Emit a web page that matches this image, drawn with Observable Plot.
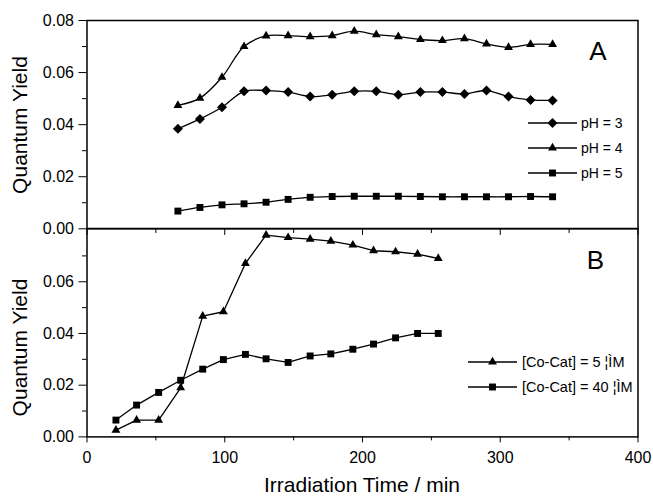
<!DOCTYPE html>
<html><head><meta charset="utf-8">
<script src="https://cdn.jsdelivr.net/npm/d3@7"></script>
<script src="https://cdn.jsdelivr.net/npm/@observablehq/plot@0.6"></script>
<style>
body{margin:0;background:#fff}
#wrap{position:relative;width:653px;height:499px;font-family:"Liberation Sans",Arial,sans-serif;overflow:hidden}
#wrap svg{position:absolute;left:0}
</style></head><body><div id="wrap"></div>
<script>
// ---- data ----
const timeA = [66,82,98,114,130,146,162,178,194,210,226,242,258,274,290,306,322,338];
const pH3 = [0.0384,0.0422,0.0467,0.0528,0.0531,0.0525,0.0508,0.0515,0.0528,0.0528,0.0515,0.0525,0.0525,0.0518,0.0531,0.0508,0.0495,0.0493];
const pH4 = [0.0474,0.0502,0.0582,0.0700,0.0741,0.0742,0.0738,0.0742,0.0759,0.0746,0.0738,0.0727,0.0723,0.0730,0.0710,0.0697,0.0708,0.0708];
const pH5 = [0.0068,0.0082,0.0092,0.0096,0.0102,0.0113,0.0121,0.0124,0.0125,0.0125,0.0125,0.0124,0.0123,0.0123,0.0123,0.0123,0.0124,0.0123];
const timeB = [21,36,52,68,84,99,115,130,146,162,177,193,208,224,240,255];
const coCat5 = [0.0026,0.0065,0.0065,0.0190,0.0467,0.0484,0.0671,0.0780,0.0771,0.0765,0.0757,0.0742,0.0720,0.0716,0.0707,0.0690];
const coCat40 = [0.0065,0.0123,0.0172,0.0219,0.0262,0.0299,0.0319,0.0302,0.0288,0.0313,0.0321,0.0339,0.0359,0.0383,0.0400,0.0400];
const seriesA = ["pH = 3","pH = 4","pH = 5"];
const seriesB = ["[Co-Cat] = 5 ¦ÌM","[Co-Cat] = 40 ¦ÌM"];
const xTicks = [0,100,200,300,400];
const xMinor = [50,150,250,350];
const yTicksA = [0,0.02,0.04,0.06,0.08];
const yTicksB = [0,0.02,0.04,0.06];
const yMinor = [0.01,0.03,0.05,0.07];
const panelLabels = ["A","B"];
const yLabel = "Quantum Yield";
const xLabel = "Irradiation Time / min";

// ---- symbols ----
const diamond = {draw(ctx, size){const s = Math.sqrt(size/2); ctx.moveTo(0,-s); ctx.lineTo(s,0); ctx.lineTo(0,s); ctx.lineTo(-s,0); ctx.closePath();}};
const sym = {diamond: [diamond, 4.0], triangle: [d3.symbolTriangle, 3.3], square: [d3.symbolSquare, 3.9]};

const rows = (xs, ys) => xs.map((t,i) => ({t, v: ys[i]}));
const fmt = d3.format(".2f");
const blank = () => "";

function seriesMarks(data, kind, curve) {
  const [s, r] = sym[kind];
  return [
    Plot.line(data, {x:"t", y:"v", curve, stroke:"black", strokeWidth:1.3}),
    Plot.dot(data, {x:"t", y:"v", symbol: s, r, fill:"black", stroke:"none"})
  ];
}

const style = {fontFamily:'"Liberation Sans", Arial, sans-serif', fontSize:"16px", color:"black", background:"transparent", overflow:"visible"};
const W = 653, mL = 86.5, mR = 15.5;
const topA = 20, bottomA = 228.3, bottomB = 436.7;

const chartA = Plot.plot({
  width: W, height: 230, marginLeft: mL, marginRight: mR, marginTop: topA, marginBottom: 230 - bottomA,
  x: {domain: [0,400], axis: null}, y: {domain: [0,0.08]}, style,
  marks: [
    Plot.axisY({ticks: yTicksA, tickSize: 8, tickPadding: 5, tickFormat: fmt, label: null}),
    Plot.axisY({ticks: yMinor, tickSize: 4.5, tickFormat: blank, label: null}),
    ...seriesMarks(rows(timeA, pH4), "triangle", "catmull-rom"),
    ...seriesMarks(rows(timeA, pH3), "diamond", "catmull-rom"),
    ...seriesMarks(rows(timeA, pH5), "square", "catmull-rom"),
    Plot.text([panelLabels[0]], {frameAnchor:"top-right", dx:-40, dy:30.8, lineAnchor:"middle", textAnchor:"middle", fontSize:26, fill:"black"}),
    Plot.frame({stroke:"black", strokeWidth:1.5})
  ]
});
chartA.style.top = "0px";

const hB = 499 - bottomA;
const chartB = Plot.plot({
  width: W, height: hB, marginLeft: mL, marginRight: mR, marginTop: 0, marginBottom: hB - (bottomB - bottomA),
  x: {domain: [0,400]}, y: {domain: [0,0.0806]}, style,
  marks: [
    Plot.axisY({ticks: yTicksB, tickSize: 8, tickPadding: 5, tickFormat: fmt, label: null}),
    Plot.axisY({ticks: yMinor, tickSize: 4.5, tickFormat: blank, label: null}),
    Plot.axisX({ticks: xTicks, tickSize: 6, tickPadding: 9, tickFormat: d => String(d), label: null}),
    Plot.axisX({ticks: xMinor, tickSize: 4, tickFormat: blank, label: null}),
    Plot.axisX({anchor:"top", ticks: xTicks, tickSize: 6, dy: 6, tickFormat: blank, label: null}),
    Plot.axisX({anchor:"top", ticks: xMinor, tickSize: 4, dy: 4, tickFormat: blank, label: null}),
    ...seriesMarks(rows(timeB, coCat5), "triangle", "linear"),
    ...seriesMarks(rows(timeB, coCat40), "square", "linear"),
    Plot.text([panelLabels[1]], {frameAnchor:"top-right", dx:-42.5, dy:32.5, lineAnchor:"middle", textAnchor:"middle", fontSize:26, fill:"black"}),
    Plot.frame({stroke:"black", strokeWidth:1.5})
  ]
});
chartB.style.top = bottomA + "px";

const wrap = document.getElementById("wrap");
wrap.appendChild(chartA);
wrap.appendChild(chartB);

// ---- overlay: axis titles and legends ----
const ov = d3.select(wrap).append("svg").attr("width", W).attr("height", 499).style("top","0px")
  .attr("font-family", '"Liberation Sans", Arial, sans-serif');
[125, 347.5].forEach(cy => {
  ov.append("text").attr("transform", `translate(27,${cy}) rotate(-90)`).attr("text-anchor","middle")
    .attr("font-size", 21).attr("fill","black").text(yLabel);
});
ov.append("text").attr("x", 362).attr("y", 492).attr("text-anchor","middle").attr("font-size",21).attr("fill","black").text(xLabel);

function legend(items, x0, x1, xt, ys, fs) {
  items.forEach(([label, kind], i) => {
    const y = ys[i];
    const [s, r] = sym[kind];
    const g = ov.append("g");
    g.append("line").attr("x1", x0).attr("x2", x1).attr("y1", y).attr("y2", y).attr("stroke","black").attr("stroke-width",1.3);
    g.append("path").attr("transform", `translate(${(x0+x1)/2},${y})`).attr("d", d3.symbol(s, Math.PI*r*r)()).attr("fill","black");
    g.append("text").attr("x", xt).attr("y", y).attr("dy","0.35em").attr("font-size", fs).attr("fill","black").text(label);
  });
}
legend([[seriesA[0],"diamond"],[seriesA[1],"triangle"],[seriesA[2],"square"]], 528, 577, 581, [123,148,173], 14);
legend([[seriesB[0],"triangle"],[seriesB[1],"square"]], 468, 517, 522, [362,387], 14.5);
</script></body></html>
